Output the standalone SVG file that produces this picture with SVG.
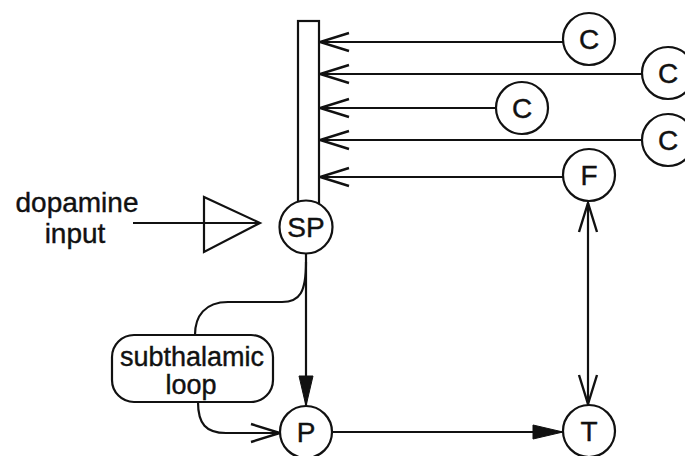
<svg xmlns="http://www.w3.org/2000/svg" width="685" height="456" viewBox="0 0 685 456">
<style>
.ln{fill:none;stroke:#111;stroke-width:2.2}
.nd{fill:#fff;stroke:#111;stroke-width:2.2}
.tx{font-family:"Liberation Sans",Arial,sans-serif;fill:#111;stroke:#111;stroke-width:0.4;text-anchor:middle}
.lbl{font-size:27px}
.big{font-size:28px}
</style>
<defs>
<marker id="open" markerUnits="userSpaceOnUse" viewBox="-32 -12 34 24" refX="0" refY="0" markerWidth="34" markerHeight="24" orient="auto" overflow="visible">
<path d="M-29,-9 L0,0 L-29,9" fill="none" stroke="#111" stroke-width="2.4"/>
</marker>
<marker id="filled" markerUnits="userSpaceOnUse" viewBox="-32 -10 34 20" refX="0" refY="0" markerWidth="34" markerHeight="20" orient="auto" overflow="visible">
<path d="M-30,-7 L0,0 L-30,7 Z" fill="#111" stroke="#111" stroke-width="1"/>
</marker>
</defs>
<rect width="685" height="456" fill="#fff"/>
<g id="connectors">
<line class="ln" x1="563" y1="42" x2="320" y2="42" marker-end="url(#open)"/>
<line class="ln" x1="642" y1="74" x2="320" y2="74" marker-end="url(#open)"/>
<line class="ln" x1="496" y1="108" x2="320" y2="108" marker-end="url(#open)"/>
<line class="ln" x1="642" y1="140" x2="320" y2="140" marker-end="url(#open)"/>
<line class="ln" x1="563" y1="177" x2="320" y2="177" marker-end="url(#open)"/>
<line class="ln" x1="588" y1="300" x2="588" y2="203" marker-end="url(#open)"/>
<line class="ln" x1="588" y1="300" x2="588" y2="404" marker-end="url(#open)"/>
<line class="ln" x1="306" y1="254" x2="306" y2="406" marker-end="url(#filled)"/>
<line class="ln" x1="332" y1="432" x2="563" y2="432" marker-end="url(#filled)"/>
<path class="ln" d="M306,262 C306,292 300,302 282,302 L228,302 C205,302 195,316 195,335"/>
<path class="ln" d="M198,402 C198,424 206,433 226,433 L280,433" marker-end="url(#open)"/>
<line class="ln" x1="133" y1="223" x2="260" y2="223"/>
</g>
<g id="dopamine">
<polygon class="ln" points="204,197 204,252 260,223"/>
<text class="tx big" x="77" y="212">dopamine</text>
<text class="tx big" x="75" y="243">input</text>
</g>
<g id="bar">
<rect class="nd" x="298" y="21" width="21" height="185"/>
</g>
<g id="SP">
<circle class="nd" cx="306" cy="227" r="26.5"/>
<text class="tx big" x="306" y="237">SP</text>
</g>
<g id="C1">
<circle class="nd" cx="589" cy="39" r="26"/>
<text class="tx big" x="589" y="49">C</text>
</g>
<g id="C2">
<circle class="nd" cx="668" cy="73" r="26"/>
<text class="tx big" x="668" y="83">C</text>
</g>
<g id="C3">
<circle class="nd" cx="522" cy="108" r="26"/>
<text class="tx big" x="522" y="118">C</text>
</g>
<g id="C4">
<circle class="nd" cx="668" cy="140" r="26"/>
<text class="tx big" x="668" y="150">C</text>
</g>
<g id="F">
<circle class="nd" cx="589" cy="175" r="26"/>
<text class="tx big" x="589" y="185">F</text>
</g>
<g id="subthalamic">
<rect class="nd" x="112" y="335" width="161" height="67" rx="22"/>
<text class="tx lbl" x="192" y="366">subthalamic</text>
<text class="tx lbl" x="191" y="394">loop</text>
</g>
<g id="P">
<circle class="nd" cx="306" cy="432" r="26"/>
<text class="tx big" x="306" y="442">P</text>
</g>
<g id="T">
<circle class="nd" cx="589" cy="431" r="26"/>
<text class="tx big" x="589" y="441">T</text>
</g>
</svg>
